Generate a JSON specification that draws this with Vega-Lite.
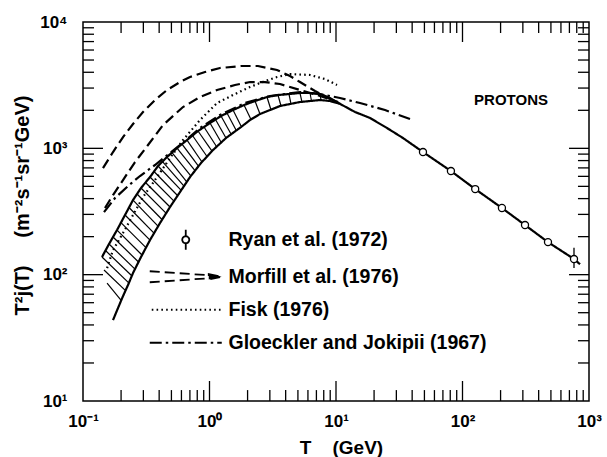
{
  "$schema": "https://vega.github.io/schema/vega-lite/v6.json",
  "width": 506,
  "height": 379,
  "autosize": {"type": "none"},
  "padding": {"left": 83, "top": 22, "right": 18, "bottom": 56},
  "background": "white",
  "datasets": {
    "hatch": [
      {"T1": 0.155, "v1": 85.8, "T2": 0.1995, "v2": 62.9},
      {"T1": 0.1466, "v1": 108.8, "T2": 0.2148, "v2": 75.5},
      {"T1": 0.1413, "v1": 137.9, "T2": 0.231, "v2": 85.8},
      {"T1": 0.1506, "v1": 155.2, "T2": 0.244, "v2": 97.5},
      {"T1": 0.1605, "v1": 174.7, "T2": 0.2577, "v2": 110.7},
      {"T1": 0.1727, "v1": 198.5, "T2": 0.2747, "v2": 125.9},
      {"T1": 0.1857, "v1": 225.5, "T2": 0.2927, "v2": 143.0},
      {"T1": 0.1995, "v1": 258.5, "T2": 0.3148, "v2": 163.9},
      {"T1": 0.2148, "v1": 296.5, "T2": 0.3386, "v2": 187.9},
      {"T1": 0.231, "v1": 339.9, "T2": 0.3641, "v2": 213.5},
      {"T1": 0.2485, "v1": 389.6, "T2": 0.3916, "v2": 242.5},
      {"T1": 0.2673, "v1": 434.7, "T2": 0.4212, "v2": 273.1},
      {"T1": 0.2873, "v1": 485.0, "T2": 0.4531, "v2": 307.4},
      {"T1": 0.312, "v1": 536.0, "T2": 0.4873, "v2": 343.0},
      {"T1": 0.3386, "v1": 592.6, "T2": 0.5241, "v2": 382.5},
      {"T1": 0.3641, "v1": 655.1, "T2": 0.5585, "v2": 423.0},
      {"T1": 0.3916, "v1": 724.2, "T2": 0.5953, "v2": 467.5},
      {"T1": 0.4251, "v1": 786.3, "T2": 0.6287, "v2": 502.9},
      {"T1": 0.4613, "v1": 853.4, "T2": 0.664, "v2": 541.0},
      {"T1": 0.5053, "v1": 926.1, "T2": 0.7141, "v2": 603.6},
      {"T1": 0.5535, "v1": 1005.5, "T2": 0.768, "v2": 667.2},
      {"T1": 0.6062, "v1": 1081.4, "T2": 0.8185, "v2": 724.2},
      {"T1": 0.664, "v1": 1163.2, "T2": 0.8724, "v2": 779.0},
      {"T1": 0.7338, "v1": 1262.8, "T2": 0.9555, "v2": 861.3},
      {"T1": 0.8111, "v1": 1371, "T2": 1.047, "v2": 951.9},
      {"T1": 0.9049, "v1": 1474.5, "T2": 1.136, "v2": 1033.5},
      {"T1": 1.009, "v1": 1586, "T2": 1.233, "v2": 1121.7},
      {"T1": 1.115, "v1": 1690, "T2": 1.35, "v2": 1206.7},
      {"T1": 1.233, "v1": 1802, "T2": 1.479, "v2": 1298},
      {"T1": 1.375, "v1": 1903, "T2": 1.62, "v2": 1396},
      {"T1": 1.534, "v1": 2010, "T2": 1.775, "v2": 1502},
      {"T1": 1.874, "v1": 2202, "T2": 2.129, "v2": 1690},
      {"T1": 2.289, "v1": 2369, "T2": 2.507, "v2": 1869},
      {"T1": 2.848, "v1": 2548, "T2": 3.064, "v2": 2010},
      {"T1": 3.479, "v1": 2642, "T2": 3.674, "v2": 2162},
      {"T1": 4.251, "v1": 2691, "T2": 4.409, "v2": 2243},
      {"T1": 5.193, "v1": 2741, "T2": 5.385, "v2": 2326},
      {"T1": 6.231, "v1": 2741, "T2": 6.403, "v2": 2369},
      {"T1": 7.473, "v1": 2691, "T2": 7.611, "v2": 2413}
    ],
    "frameticks": [
      {"T1": 1, "v1": 10, "T2": 1, "v2": 14.4}, {"T1": 10, "v1": 10, "T2": 10, "v2": 14.4}, {"T1": 100, "v1": 10, "T2": 100, "v2": 14.4},
      {"T1": 0.2, "v1": 10, "T2": 0.2, "v2": 12.2}, {"T1": 0.3, "v1": 10, "T2": 0.3, "v2": 12.2}, {"T1": 0.4, "v1": 10, "T2": 0.4, "v2": 12.2}, {"T1": 0.5, "v1": 10, "T2": 0.5, "v2": 12.2}, {"T1": 0.6, "v1": 10, "T2": 0.6, "v2": 12.2}, {"T1": 0.7, "v1": 10, "T2": 0.7, "v2": 12.2}, {"T1": 0.8, "v1": 10, "T2": 0.8, "v2": 12.2}, {"T1": 0.9, "v1": 10, "T2": 0.9, "v2": 12.2},
      {"T1": 2, "v1": 10, "T2": 2, "v2": 12.2}, {"T1": 3, "v1": 10, "T2": 3, "v2": 12.2}, {"T1": 4, "v1": 10, "T2": 4, "v2": 12.2}, {"T1": 5, "v1": 10, "T2": 5, "v2": 12.2}, {"T1": 6, "v1": 10, "T2": 6, "v2": 12.2}, {"T1": 7, "v1": 10, "T2": 7, "v2": 12.2}, {"T1": 8, "v1": 10, "T2": 8, "v2": 12.2}, {"T1": 9, "v1": 10, "T2": 9, "v2": 12.2},
      {"T1": 20, "v1": 10, "T2": 20, "v2": 12.2}, {"T1": 30, "v1": 10, "T2": 30, "v2": 12.2}, {"T1": 40, "v1": 10, "T2": 40, "v2": 12.2}, {"T1": 50, "v1": 10, "T2": 50, "v2": 12.2}, {"T1": 60, "v1": 10, "T2": 60, "v2": 12.2}, {"T1": 70, "v1": 10, "T2": 70, "v2": 12.2}, {"T1": 80, "v1": 10, "T2": 80, "v2": 12.2}, {"T1": 90, "v1": 10, "T2": 90, "v2": 12.2},
      {"T1": 200, "v1": 10, "T2": 200, "v2": 12.2}, {"T1": 300, "v1": 10, "T2": 300, "v2": 12.2}, {"T1": 400, "v1": 10, "T2": 400, "v2": 12.2}, {"T1": 500, "v1": 10, "T2": 500, "v2": 12.2}, {"T1": 600, "v1": 10, "T2": 600, "v2": 12.2}, {"T1": 700, "v1": 10, "T2": 700, "v2": 12.2}, {"T1": 800, "v1": 10, "T2": 800, "v2": 12.2}, {"T1": 900, "v1": 10, "T2": 900, "v2": 12.2},
      {"T1": 1, "v1": 10000, "T2": 1, "v2": 6944}, {"T1": 10, "v1": 10000, "T2": 10, "v2": 6944}, {"T1": 100, "v1": 10000, "T2": 100, "v2": 6944},
      {"T1": 0.2, "v1": 10000, "T2": 0.2, "v2": 8183}, {"T1": 0.3, "v1": 10000, "T2": 0.3, "v2": 8183}, {"T1": 0.4, "v1": 10000, "T2": 0.4, "v2": 8183}, {"T1": 0.5, "v1": 10000, "T2": 0.5, "v2": 8183}, {"T1": 0.6, "v1": 10000, "T2": 0.6, "v2": 8183}, {"T1": 0.7, "v1": 10000, "T2": 0.7, "v2": 8183}, {"T1": 0.8, "v1": 10000, "T2": 0.8, "v2": 8183}, {"T1": 0.9, "v1": 10000, "T2": 0.9, "v2": 8183},
      {"T1": 2, "v1": 10000, "T2": 2, "v2": 8183}, {"T1": 3, "v1": 10000, "T2": 3, "v2": 8183}, {"T1": 4, "v1": 10000, "T2": 4, "v2": 8183}, {"T1": 5, "v1": 10000, "T2": 5, "v2": 8183}, {"T1": 6, "v1": 10000, "T2": 6, "v2": 8183}, {"T1": 7, "v1": 10000, "T2": 7, "v2": 8183}, {"T1": 8, "v1": 10000, "T2": 8, "v2": 8183}, {"T1": 9, "v1": 10000, "T2": 9, "v2": 8183},
      {"T1": 20, "v1": 10000, "T2": 20, "v2": 8183}, {"T1": 30, "v1": 10000, "T2": 30, "v2": 8183}, {"T1": 40, "v1": 10000, "T2": 40, "v2": 8183}, {"T1": 50, "v1": 10000, "T2": 50, "v2": 8183}, {"T1": 60, "v1": 10000, "T2": 60, "v2": 8183}, {"T1": 70, "v1": 10000, "T2": 70, "v2": 8183}, {"T1": 80, "v1": 10000, "T2": 80, "v2": 8183}, {"T1": 90, "v1": 10000, "T2": 90, "v2": 8183},
      {"T1": 200, "v1": 10000, "T2": 200, "v2": 8183}, {"T1": 300, "v1": 10000, "T2": 300, "v2": 8183}, {"T1": 400, "v1": 10000, "T2": 400, "v2": 8183}, {"T1": 500, "v1": 10000, "T2": 500, "v2": 8183}, {"T1": 600, "v1": 10000, "T2": 600, "v2": 8183}, {"T1": 700, "v1": 10000, "T2": 700, "v2": 8183}, {"T1": 800, "v1": 10000, "T2": 800, "v2": 8183}, {"T1": 900, "v1": 10000, "T2": 900, "v2": 8183},
      {"T1": 0.1, "v1": 100, "T2": 0.1439, "v2": 100}, {"T1": 0.1, "v1": 1000, "T2": 0.1439, "v2": 1000},
      {"T1": 0.1, "v1": 20, "T2": 0.1222, "v2": 20}, {"T1": 0.1, "v1": 30, "T2": 0.1222, "v2": 30}, {"T1": 0.1, "v1": 40, "T2": 0.1222, "v2": 40}, {"T1": 0.1, "v1": 50, "T2": 0.1222, "v2": 50}, {"T1": 0.1, "v1": 60, "T2": 0.1222, "v2": 60}, {"T1": 0.1, "v1": 70, "T2": 0.1222, "v2": 70}, {"T1": 0.1, "v1": 80, "T2": 0.1222, "v2": 80}, {"T1": 0.1, "v1": 90, "T2": 0.1222, "v2": 90},
      {"T1": 0.1, "v1": 200, "T2": 0.1222, "v2": 200}, {"T1": 0.1, "v1": 300, "T2": 0.1222, "v2": 300}, {"T1": 0.1, "v1": 400, "T2": 0.1222, "v2": 400}, {"T1": 0.1, "v1": 500, "T2": 0.1222, "v2": 500}, {"T1": 0.1, "v1": 600, "T2": 0.1222, "v2": 600}, {"T1": 0.1, "v1": 700, "T2": 0.1222, "v2": 700}, {"T1": 0.1, "v1": 800, "T2": 0.1222, "v2": 800}, {"T1": 0.1, "v1": 900, "T2": 0.1222, "v2": 900},
      {"T1": 0.1, "v1": 2000, "T2": 0.1222, "v2": 2000}, {"T1": 0.1, "v1": 3000, "T2": 0.1222, "v2": 3000}, {"T1": 0.1, "v1": 4000, "T2": 0.1222, "v2": 4000}, {"T1": 0.1, "v1": 5000, "T2": 0.1222, "v2": 5000}, {"T1": 0.1, "v1": 6000, "T2": 0.1222, "v2": 6000}, {"T1": 0.1, "v1": 7000, "T2": 0.1222, "v2": 7000}, {"T1": 0.1, "v1": 8000, "T2": 0.1222, "v2": 8000}, {"T1": 0.1, "v1": 9000, "T2": 0.1222, "v2": 9000},
      {"T1": 1000, "v1": 100, "T2": 695, "v2": 100}, {"T1": 1000, "v1": 1000, "T2": 695, "v2": 1000},
      {"T1": 1000, "v1": 20, "T2": 818, "v2": 20}, {"T1": 1000, "v1": 30, "T2": 818, "v2": 30}, {"T1": 1000, "v1": 40, "T2": 818, "v2": 40}, {"T1": 1000, "v1": 50, "T2": 818, "v2": 50}, {"T1": 1000, "v1": 60, "T2": 818, "v2": 60}, {"T1": 1000, "v1": 70, "T2": 818, "v2": 70}, {"T1": 1000, "v1": 80, "T2": 818, "v2": 80}, {"T1": 1000, "v1": 90, "T2": 818, "v2": 90},
      {"T1": 1000, "v1": 200, "T2": 818, "v2": 200}, {"T1": 1000, "v1": 300, "T2": 818, "v2": 300}, {"T1": 1000, "v1": 400, "T2": 818, "v2": 400}, {"T1": 1000, "v1": 500, "T2": 818, "v2": 500}, {"T1": 1000, "v1": 600, "T2": 818, "v2": 600}, {"T1": 1000, "v1": 700, "T2": 818, "v2": 700}, {"T1": 1000, "v1": 800, "T2": 818, "v2": 800}, {"T1": 1000, "v1": 900, "T2": 818, "v2": 900},
      {"T1": 1000, "v1": 2000, "T2": 818, "v2": 2000}, {"T1": 1000, "v1": 3000, "T2": 818, "v2": 3000}, {"T1": 1000, "v1": 4000, "T2": 818, "v2": 4000}, {"T1": 1000, "v1": 5000, "T2": 818, "v2": 5000}, {"T1": 1000, "v1": 6000, "T2": 818, "v2": 6000}, {"T1": 1000, "v1": 7000, "T2": 818, "v2": 7000}, {"T1": 1000, "v1": 8000, "T2": 818, "v2": 8000}, {"T1": 1000, "v1": 9000, "T2": 818, "v2": 9000}
    ],
    "curves": [
      {"curve": "L", "series": "Ryan et al. (1972)", "T": 0.1727, "v": 43.7},
      {"curve": "L", "series": "Ryan et al. (1972)", "T": 0.1891, "v": 54.4},
      {"curve": "L", "series": "Ryan et al. (1972)", "T": 0.2072, "v": 67.7},
      {"curve": "L", "series": "Ryan et al. (1972)", "T": 0.2269, "v": 82.8},
      {"curve": "L", "series": "Ryan et al. (1972)", "T": 0.2485, "v": 103.0},
      {"curve": "L", "series": "Ryan et al. (1972)", "T": 0.2873, "v": 137.9},
      {"curve": "L", "series": "Ryan et al. (1972)", "T": 0.3386, "v": 187.9},
      {"curve": "L", "series": "Ryan et al. (1972)", "T": 0.4061, "v": 256.2},
      {"curve": "L", "series": "Ryan et al. (1972)", "T": 0.4873, "v": 343.0},
      {"curve": "L", "series": "Ryan et al. (1972)", "T": 0.5846, "v": 450.8},
      {"curve": "L", "series": "Ryan et al. (1972)", "T": 0.7013, "v": 592.6},
      {"curve": "L", "series": "Ryan et al. (1972)", "T": 0.8567, "v": 765},
      {"curve": "L", "series": "Ryan et al. (1972)", "T": 1.066, "v": 969.4},
      {"curve": "L", "series": "Ryan et al. (1972)", "T": 1.35, "v": 1206.7},
      {"curve": "L", "series": "Ryan et al. (1972)", "T": 1.775, "v": 1474.5},
      {"curve": "L", "series": "Ryan et al. (1972)", "T": 2.09, "v": 1675},
      {"curve": "L", "series": "Ryan et al. (1972)", "T": 2.507, "v": 1869},
      {"curve": "L", "series": "Ryan et al. (1972)", "T": 3.009, "v": 2010},
      {"curve": "L", "series": "Ryan et al. (1972)", "T": 3.608, "v": 2162},
      {"curve": "L", "series": "Ryan et al. (1972)", "T": 4.329, "v": 2243},
      {"curve": "L", "series": "Ryan et al. (1972)", "T": 5.193, "v": 2326},
      {"curve": "L", "series": "Ryan et al. (1972)", "T": 6.231, "v": 2369},
      {"curve": "L", "series": "Ryan et al. (1972)", "T": 7.473, "v": 2413},
      {"curve": "L", "series": "Ryan et al. (1972)", "T": 8.966, "v": 2369},
      {"curve": "L", "series": "Ryan et al. (1972)", "T": 10.75, "v": 2250},
      {"curve": "L", "series": "Ryan et al. (1972)", "T": 14.13, "v": 1940},
      {"curve": "L", "series": "Ryan et al. (1972)", "T": 18.57, "v": 1738},
      {"curve": "L", "series": "Ryan et al. (1972)", "T": 25.31, "v": 1448},
      {"curve": "L", "series": "Ryan et al. (1972)", "T": 33.85, "v": 1206.7},
      {"curve": "L", "series": "Ryan et al. (1972)", "T": 48.7, "v": 935},
      {"curve": "L", "series": "Ryan et al. (1972)", "T": 81, "v": 661},
      {"curve": "L", "series": "Ryan et al. (1972)", "T": 126, "v": 476},
      {"curve": "L", "series": "Ryan et al. (1972)", "T": 205, "v": 337},
      {"curve": "L", "series": "Ryan et al. (1972)", "T": 312, "v": 247},
      {"curve": "L", "series": "Ryan et al. (1972)", "T": 474, "v": 181},
      {"curve": "L", "series": "Ryan et al. (1972)", "T": 761, "v": 133},
      {"curve": "L", "series": "Ryan et al. (1972)", "T": 849, "v": 121},
      {"curve": "U", "series": "Ryan et al. (1972)", "T": 0.1413, "v": 137.9},
      {"curve": "U", "series": "Ryan et al. (1972)", "T": 0.1605, "v": 174.7},
      {"curve": "U", "series": "Ryan et al. (1972)", "T": 0.1857, "v": 225.5},
      {"curve": "U", "series": "Ryan et al. (1972)", "T": 0.2148, "v": 296.5},
      {"curve": "U", "series": "Ryan et al. (1972)", "T": 0.2485, "v": 389.6},
      {"curve": "U", "series": "Ryan et al. (1972)", "T": 0.2873, "v": 485.0},
      {"curve": "U", "series": "Ryan et al. (1972)", "T": 0.3386, "v": 592.6},
      {"curve": "U", "series": "Ryan et al. (1972)", "T": 0.3916, "v": 724.2},
      {"curve": "U", "series": "Ryan et al. (1972)", "T": 0.4613, "v": 853.4},
      {"curve": "U", "series": "Ryan et al. (1972)", "T": 0.5535, "v": 1005.5},
      {"curve": "U", "series": "Ryan et al. (1972)", "T": 0.664, "v": 1163.2},
      {"curve": "U", "series": "Ryan et al. (1972)", "T": 0.8111, "v": 1371},
      {"curve": "U", "series": "Ryan et al. (1972)", "T": 1.009, "v": 1586},
      {"curve": "U", "series": "Ryan et al. (1972)", "T": 1.233, "v": 1802},
      {"curve": "U", "series": "Ryan et al. (1972)", "T": 1.534, "v": 2010},
      {"curve": "U", "series": "Ryan et al. (1972)", "T": 1.874, "v": 2202},
      {"curve": "U", "series": "Ryan et al. (1972)", "T": 2.289, "v": 2369},
      {"curve": "U", "series": "Ryan et al. (1972)", "T": 2.848, "v": 2548},
      {"curve": "U", "series": "Ryan et al. (1972)", "T": 3.479, "v": 2642},
      {"curve": "U", "series": "Ryan et al. (1972)", "T": 4.251, "v": 2691},
      {"curve": "U", "series": "Ryan et al. (1972)", "T": 5.193, "v": 2741},
      {"curve": "U", "series": "Ryan et al. (1972)", "T": 6.231, "v": 2741},
      {"curve": "U", "series": "Ryan et al. (1972)", "T": 7.473, "v": 2691},
      {"curve": "U", "series": "Ryan et al. (1972)", "T": 8.966, "v": 2502},
      {"curve": "U", "series": "Ryan et al. (1972)", "T": 10.75, "v": 2250},
      {"curve": "M1", "series": "Morfill et al. (1976)", "T": 0.1439, "v": 698},
      {"curve": "M1", "series": "Morfill et al. (1976)", "T": 0.1727, "v": 935},
      {"curve": "M1", "series": "Morfill et al. (1976)", "T": 0.2072, "v": 1229},
      {"curve": "M1", "series": "Morfill et al. (1976)", "T": 0.2485, "v": 1557},
      {"curve": "M1", "series": "Morfill et al. (1976)", "T": 0.2981, "v": 1938},
      {"curve": "M1", "series": "Morfill et al. (1976)", "T": 0.3708, "v": 2413},
      {"curve": "M1", "series": "Morfill et al. (1976)", "T": 0.4613, "v": 2894},
      {"curve": "M1", "series": "Morfill et al. (1976)", "T": 0.5846, "v": 3348},
      {"curve": "M1", "series": "Morfill et al. (1976)", "T": 0.7013, "v": 3668},
      {"curve": "M1", "series": "Morfill et al. (1976)", "T": 0.9214, "v": 4019},
      {"curve": "M1", "series": "Morfill et al. (1976)", "T": 1.211, "v": 4323},
      {"curve": "M1", "series": "Morfill et al. (1976)", "T": 1.775, "v": 4483},
      {"curve": "M1", "series": "Morfill et al. (1976)", "T": 2.417, "v": 4483},
      {"curve": "M1", "series": "Morfill et al. (1976)", "T": 3.417, "v": 4169},
      {"curve": "M1", "series": "Morfill et al. (1976)", "T": 4.329, "v": 3736},
      {"curve": "M1", "series": "Morfill et al. (1976)", "T": 5.193, "v": 3348},
      {"curve": "M1", "series": "Morfill et al. (1976)", "T": 6.823, "v": 2842},
      {"curve": "M1", "series": "Morfill et al. (1976)", "T": 8.966, "v": 2457},
      {"curve": "M1", "series": "Morfill et al. (1976)", "T": 10.37, "v": 2326},
      {"curve": "M2", "series": "Morfill et al. (1976)", "T": 0.1492, "v": 337},
      {"curve": "M2", "series": "Morfill et al. (1976)", "T": 0.1727, "v": 427},
      {"curve": "M2", "series": "Morfill et al. (1976)", "T": 0.2072, "v": 561},
      {"curve": "M2", "series": "Morfill et al. (1976)", "T": 0.2577, "v": 779},
      {"curve": "M2", "series": "Morfill et al. (1976)", "T": 0.3265, "v": 1062},
      {"curve": "M2", "series": "Morfill et al. (1976)", "T": 0.429, "v": 1529},
      {"curve": "M2", "series": "Morfill et al. (1976)", "T": 0.6173, "v": 2123},
      {"curve": "M2", "series": "Morfill et al. (1976)", "T": 0.8413, "v": 2548},
      {"curve": "M2", "series": "Morfill et al. (1976)", "T": 1.147, "v": 2894},
      {"curve": "M2", "series": "Morfill et al. (1976)", "T": 1.591, "v": 3171},
      {"curve": "M2", "series": "Morfill et al. (1976)", "T": 2.09, "v": 3348},
      {"curve": "M2", "series": "Morfill et al. (1976)", "T": 2.746, "v": 3348},
      {"curve": "M2", "series": "Morfill et al. (1976)", "T": 3.608, "v": 3229},
      {"curve": "M2", "series": "Morfill et al. (1976)", "T": 5.193, "v": 2894},
      {"curve": "M2", "series": "Morfill et al. (1976)", "T": 7.077, "v": 2642},
      {"curve": "M2", "series": "Morfill et al. (1976)", "T": 10.37, "v": 2326},
      {"curve": "F", "series": "Fisk (1976)", "T": 0.155, "v": 112.8},
      {"curve": "F", "series": "Fisk (1976)", "T": 0.1727, "v": 156.6},
      {"curve": "F", "series": "Fisk (1976)", "T": 0.2072, "v": 213.5},
      {"curve": "F", "series": "Fisk (1976)", "T": 0.2485, "v": 296.5},
      {"curve": "F", "series": "Fisk (1976)", "T": 0.2981, "v": 411.5},
      {"curve": "F", "series": "Fisk (1976)", "T": 0.3708, "v": 561},
      {"curve": "F", "series": "Fisk (1976)", "T": 0.4873, "v": 838},
      {"curve": "F", "series": "Fisk (1976)", "T": 0.6173, "v": 1163},
      {"curve": "F", "series": "Fisk (1976)", "T": 0.8413, "v": 1675},
      {"curve": "F", "series": "Fisk (1976)", "T": 1.147, "v": 2284},
      {"curve": "F", "series": "Fisk (1976)", "T": 1.591, "v": 2691},
      {"curve": "F", "series": "Fisk (1976)", "T": 2.09, "v": 3058},
      {"curve": "F", "series": "Fisk (1976)", "T": 2.746, "v": 3410},
      {"curve": "F", "series": "Fisk (1976)", "T": 3.417, "v": 3668},
      {"curve": "F", "series": "Fisk (1976)", "T": 4.329, "v": 3875},
      {"curve": "F", "series": "Fisk (1976)", "T": 6.231, "v": 3805},
      {"curve": "F", "series": "Fisk (1976)", "T": 8.185, "v": 3537},
      {"curve": "F", "series": "Fisk (1976)", "T": 10.18, "v": 3171},
      {"curve": "G", "series": "Gloeckler and Jokipii (1967)", "T": 0.1466, "v": 313},
      {"curve": "G", "series": "Gloeckler and Jokipii (1967)", "T": 0.179, "v": 404},
      {"curve": "G", "series": "Gloeckler and Jokipii (1967)", "T": 0.2269, "v": 503},
      {"curve": "G", "series": "Gloeckler and Jokipii (1967)", "T": 0.2822, "v": 604},
      {"curve": "G", "series": "Gloeckler and Jokipii (1967)", "T": 0.3708, "v": 738},
      {"curve": "G", "series": "Gloeckler and Jokipii (1967)", "T": 0.4873, "v": 918},
      {"curve": "G", "series": "Gloeckler and Jokipii (1967)", "T": 0.6402, "v": 1142},
      {"curve": "G", "series": "Gloeckler and Jokipii (1967)", "T": 0.8413, "v": 1448},
      {"curve": "G", "series": "Gloeckler and Jokipii (1967)", "T": 1.211, "v": 1835},
      {"curve": "G", "series": "Gloeckler and Jokipii (1967)", "T": 1.909, "v": 2284},
      {"curve": "G", "series": "Gloeckler and Jokipii (1967)", "T": 3.009, "v": 2595},
      {"curve": "G", "series": "Gloeckler and Jokipii (1967)", "T": 5.193, "v": 2791},
      {"curve": "G", "series": "Gloeckler and Jokipii (1967)", "T": 7.473, "v": 2691},
      {"curve": "G", "series": "Gloeckler and Jokipii (1967)", "T": 10.75, "v": 2502},
      {"curve": "G", "series": "Gloeckler and Jokipii (1967)", "T": 15.48, "v": 2284},
      {"curve": "G", "series": "Gloeckler and Jokipii (1967)", "T": 24.4, "v": 2010},
      {"curve": "G", "series": "Gloeckler and Jokipii (1967)", "T": 38.46, "v": 1706}
    ],
    "ryan": [
      {"T": 48.7, "v": 935},
      {"T": 81, "v": 661},
      {"T": 126, "v": 476},
      {"T": 205, "v": 337},
      {"T": 312, "v": 247},
      {"T": 474, "v": 181},
      {"T": 761, "v": 133}
    ],
    "err": [{"T": 761, "lo": 113, "hi": 163}],
    "note": [{"T": 242, "v": 2413, "text": "PROTONS"}]
  },
  "layer": [
    {
      "data": {"name": "hatch"},
      "mark": {"type": "rule", "color": "black", "strokeWidth": 1.2},
      "encoding": {
        "x": {
          "field": "T1", "type": "quantitative",
          "scale": {"type": "log", "domain": [0.1, 1000], "nice": false},
          "axis": null
        },
        "y": {
          "field": "v1", "type": "quantitative",
          "scale": {"type": "log", "domain": [10, 10000], "nice": false},
          "axis": null
        },
        "x2": {"field": "T2"},
        "y2": {"field": "v2"}
      }
    },
    {
      "data": {"name": "frameticks"},
      "mark": {"type": "rule", "color": "black", "strokeWidth": 1.3},
      "encoding": {
        "x": {"field": "T1", "type": "quantitative", "axis": null},
        "y": {"field": "v1", "type": "quantitative", "axis": null},
        "x2": {"field": "T2"},
        "y2": {"field": "v2"}
      }
    },
    {
      "data": {"name": "curves"},
      "mark": {"type": "line", "color": "black", "strokeWidth": 2.2},
      "encoding": {
        "x": {"field": "T", "type": "quantitative", "axis": null},
        "y": {"field": "v", "type": "quantitative", "axis": null},
        "detail": {"field": "curve", "type": "nominal"},
        "strokeDash": {
          "field": "series", "type": "nominal",
          "scale": {
            "domain": ["Ryan et al. (1972)", "Morfill et al. (1976)", "Fisk (1976)", "Gloeckler and Jokipii (1967)"],
            "range": [[1, 0], [10, 5], [1.6, 3.2], [12, 4, 2.5, 4]]
          },
          "legend": {
            "title": null,
            "orient": "none",
            "legendX": 93,
            "legendY": 208,
            "padding": 0,
            "symbolSize": 100,
            "symbolStrokeWidth": 1.8,
            "symbolStrokeColor": "black",
            "labelFont": "Liberation Sans",
            "labelFontWeight": "bold",
            "labelFontSize": 19.5,
            "labelColor": "black",
            "labelOffset": 33,
            "labelLimit": 400,
            "rowPadding": 12,
            "encode": {
              "symbols": {
                "update": {
                  "shape": {"signal": "datum.value == 'Ryan et al. (1972)' ? 'M0,-2L0,-0.7M0,0.7L0,2M-0.7,0A0.7,0.7 0 1,0 0.7,0A0.7,0.7 0 1,0 -0.7,0' : datum.value == 'Morfill et al. (1976)' ? 'M-7.2,-1.1L5.4,-0.25M-7.2,1.1L5.4,0.25M4.6,-0.55L7.2,0L4.6,0.55Z' : datum.value == 'Fisk (1976)' ? 'M-6.8,0L7.2,0' : 'M-7.2,0L7.2,0'"},
                  "fill": {"signal": "datum.value == 'Ryan et al. (1972)' ? 'white' : datum.value == 'Morfill et al. (1976)' ? 'black' : 'transparent'"},
                  "stroke": {"value": "black"},
                  "strokeWidth": {"value": 1.8},
                  "opacity": {"value": 1}
                }
              }
            }
          }
        }
      }
    },
    {
      "data": {"name": "err"},
      "mark": {"type": "rule", "color": "black", "strokeWidth": 1.3},
      "encoding": {
        "x": {
          "field": "T", "type": "quantitative",
          "axis": {
            "orient": "bottom",
            "offset": -20,
            "values": [0.1, 1, 10, 100, 1000],
            "tickSize": 20,
            "tickOpacity": 0,
            "labelPadding": 12,
            "labelExpr": "datum.value == 0.1 ? '10⁻¹' : datum.value == 1 ? '10⁰' : datum.value == 10 ? '10¹' : datum.value == 100 ? '10²' : datum.value == 1000 ? '10³' : ''",
            "title": "T\u00a0\u00a0\u00a0\u00a0(GeV)",
            "titleFontSize": 19,
            "titleFontWeight": "bold",
            "titleX": 258,
            "titleY": 66,
            "titleAlign": "center",
            "titleBaseline": "middle"
          }
        },
        "y": {
          "field": "lo", "type": "quantitative",
          "axis": {
            "orient": "left",
            "offset": -20,
            "values": [10, 100, 1000, 10000],
            "tickSize": 20,
            "tickOpacity": 0,
            "labelPadding": 16,
            "labelExpr": "datum.value == 10 ? '10¹' : datum.value == 100 ? '10²' : datum.value == 1000 ? '10³' : datum.value == 10000 ? '10⁴' : ''",
            "title": "T²j(T)\u00a0\u00a0\u00a0\u00a0\u00a0(m⁻²s⁻¹sr⁻¹GeV)",
            "titleFontSize": 20,
            "titleFontWeight": "bold",
            "titleAngle": -90,
            "titleX": -81,
            "titleY": 183,
            "titleAlign": "center",
            "titleBaseline": "middle"
          }
        },
        "y2": {"field": "hi"}
      }
    },
    {
      "data": {"name": "ryan"},
      "mark": {"type": "point", "shape": "circle", "filled": true, "fill": "white", "stroke": "black", "strokeWidth": 1.3, "size": 50, "opacity": 1},
      "encoding": {
        "x": {"field": "T", "type": "quantitative", "axis": null},
        "y": {"field": "v", "type": "quantitative", "axis": null}
      }
    },
    {
      "data": {"name": "note"},
      "mark": {"type": "text", "font": "Liberation Sans", "fontWeight": "bold", "fontSize": 15, "color": "black", "align": "center", "baseline": "middle"},
      "encoding": {
        "x": {"field": "T", "type": "quantitative", "axis": null},
        "y": {"field": "v", "type": "quantitative", "axis": null},
        "text": {"field": "text"}
      }
    }
  ],
  "resolve": {"axis": {"x": "independent", "y": "independent"}},
  "config": {
    "font": "Liberation Sans",
    "view": {"stroke": "black", "strokeWidth": 1.5},
    "axis": {
      "zindex": 1,
      "domain": false,
      "grid": false,
      "ticks": true,
      "tickColor": "black",
      "tickWidth": 1.3,
      "labelFont": "Liberation Sans",
      "labelFontWeight": "bold",
      "labelFontSize": 17,
      "labelColor": "black",
      "labelFlush": false,
      "labelOverlap": false,
      "labelBound": false,
      "titleFont": "Liberation Sans",
      "titleColor": "black"
    }
  }
}
